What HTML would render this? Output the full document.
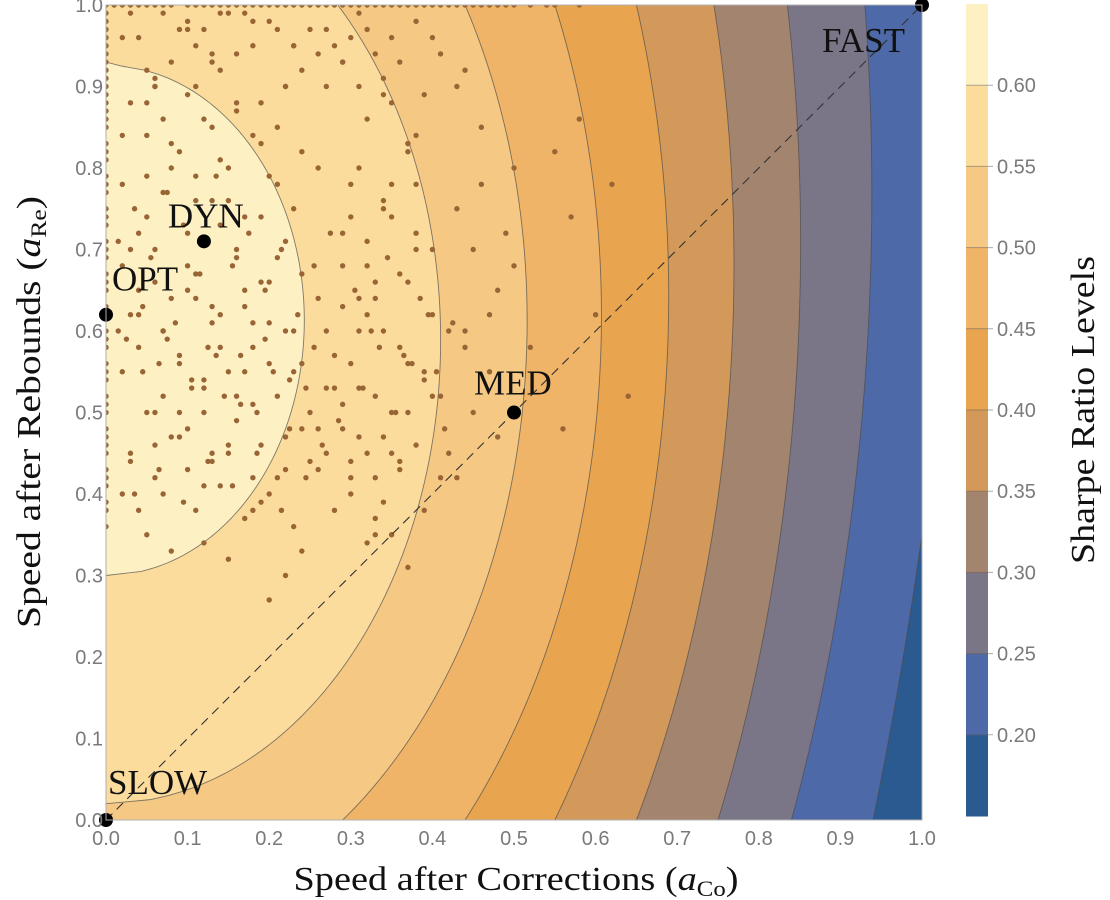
<!DOCTYPE html>
<html><head><meta charset="utf-8">
<style>
html,body{margin:0;padding:0;background:#fff;overflow:hidden;}
svg{display:block;}
.tick{font-family:"Liberation Sans",sans-serif;font-size:20px;fill:#7a7a7a;}
.ser{font-family:"Liberation Serif",serif;fill:#111;}
</style></head>
<body>
<svg id="chart" width="1110" height="900" viewBox="0 0 1110 900" xmlns="http://www.w3.org/2000/svg">
<defs><clipPath id="plotclip"><rect x="106" y="5" width="816" height="815"/></clipPath></defs>
<g id="contours" clip-path="url(#plotclip)"></g>
<g id="scatter" clip-path="url(#plotclip)"></g>
<g id="overlay"></g>
<g id="axes"></g>
<g id="cbar"></g>
<text class="ser" x="516" y="890" font-size="34" textLength="445" lengthAdjust="spacingAndGlyphs" text-anchor="middle">Speed after Corrections (<tspan font-style="italic">a</tspan><tspan font-size="22" dy="6">Co</tspan><tspan dy="-6">)</tspan></text>
<text class="ser" transform="translate(40,412) rotate(-90)" font-size="34" textLength="432" lengthAdjust="spacingAndGlyphs" text-anchor="middle">Speed after Rebounds (<tspan font-style="italic">a</tspan><tspan font-size="22" dy="6">Re</tspan><tspan dy="-6">)</tspan></text>
<text class="ser" transform="translate(1094,410) rotate(-90)" font-size="34" textLength="308" lengthAdjust="spacingAndGlyphs" text-anchor="middle">Sharpe Ratio Levels</text>
</svg>
<script>
// ---- data ----
const levelValues = [0.20, 0.25, 0.30, 0.35, 0.40, 0.45, 0.50, 0.55, 0.60];
// each boundary: three (y, x) points
const levelYa = [0.0, 0.0, 0.0, 0.0, 0.0, 0.0, 0.0, 0.02, 0.30];
const levelXa = [0.94, 0.84, 0.75, 0.65, 0.55, 0.44, 0.29, 0.0, 0.0];
const levelYb = [0.35, 0.6, 0.6, 0.6, 0.6, 0.6, 0.6, 0.6, 0.6125];
const levelXb = [1.0, 0.934, 0.849, 0.768, 0.689, 0.607, 0.516, 0.41, 0.243];
const levelYc = [0.6, 1.0, 1.0, 1.0, 1.0, 1.0, 1.0, 1.0, 0.926];
const levelXc = [1.03, 0.93, 0.835, 0.745, 0.65, 0.55, 0.44, 0.284, 0.0];
const bandColors = ["#2b5a90","#4d69a7","#7a7688","#a3846f","#d3995b","#e8a44f","#efb468","#f5c984","#fbdc9d","#fdf1c4"];
const colorbarTicks = [0.20, 0.25, 0.30, 0.35, 0.40, 0.45, 0.50, 0.55, 0.60];
const xTicks = [0.0,0.1,0.2,0.3,0.4,0.5,0.6,0.7,0.8,0.9,1.0];
const yTicks = [0.0,0.1,0.2,0.3,0.4,0.5,0.6,0.7,0.8,0.9,1.0];
const namedNames = ["SLOW","OPT","DYN","MED","FAST"];
const namedX = [0.0, 0.0, 0.12, 0.5, 1.0];
const namedY = [0.0, 0.62, 0.71, 0.5, 1.0];
const scatterX = [0.02,0.05,0.08,0.03,0.06,0.1,0.13,0.16,0.19,0.22,0.04,0.07,0.11,0.14,0.17,0.2,0.23,0.26,0.02,0.09,0.12,0.15,0.18,0.21,0.24,0.27,0.05,0.08,0.03,0.06,0.1,0.13,0.16,0.19,0.22,0.25,0.28,0.04,0.07,0.11,0.14,0.17,0.2,0.23,0.02,0.05,0.09,0.12,0.15,0.18,0.21,0.24,0.03,0.06,0.1,0.13,0.16,0.19,0.22,0.08,0.11,0.14,0.17,0.2,0.04,0.07,0.12,0.15,0.18,0.09,0.13,0.06,0.1,0.16,0.02,0.05,0.08,0.12,0.15,0.19,0.22,0.25,0.04,0.07,0.1,0.14,0.17,0.21,0.24,0.03,0.06,0.11,0.15,0.2,0.09,0.13,0.18,0.23,
0.29,0.32,0.35,0.38,0.31,0.34,0.37,0.4,0.3,0.33,0.36,0.39,0.42,0.29,0.32,0.35,0.38,0.41,0.31,0.34,0.37,0.3,0.33,0.36,0.39,0.32,0.35,0.38,0.29,0.31,0.34,0.37,0.4,0.33,0.36,0.3,0.35,0.28,0.32,0.27,0.3,0.26,0.29,
0.43,0.45,0.48,0.44,0.47,0.5,0.46,0.43,0.49,0.45,0.42,0.47,0.44,0.41,0.46,0.5,0.43,0.48,
0.04,0.08,0.12,0.16,0.2,0.24,0.28,0.32,0.36,0.4,0.06,0.1,0.14,0.18,0.22,0.26,0.3,0.34,0.38,0.44,0.03,0.09,0.15,0.21,0.27,0.33,0.39,0.07,0.13,0.19,0.25,0.31,0.37,0.05,0.11,0.17,0.23,0.29,
0.55,0.58,0.62,0.64,0.57,0.6,0.52,0.56,0.18,0.22,0.26,0.2,0.24,0.06,0.1,0.14,0.33,0.37,0.12,
0.015,0.035,0.055,0.075,0.095,0.115,0.135,0.155,0.175,0.195,0.215,0.235,0.255,0.275,0.025,0.045,0.065,0.085,0.105,0.125,0.145,0.165,0.185,0.205,0.225,0.245,0.265,0.285,0.03,0.06,0.09,0.12,0.15,0.18,0.21,0.24,0.27,0.015,0.045,0.075,0.105,0.135,0.165,0.195,0.225,0.255,0.035,0.065,0.095,0.125,0.155,0.185,0.215,0.245,0.02,0.05,0.08,0.11,0.14,0.17,0.2,0.23,0.26,0.04,0.07,0.1,0.13,0.16,0.19,0.22,
0.305,0.325,0.345,0.365,0.385,0.405,0.425,0.315,0.335,0.355,0.375,0.395,0.415,0.3,0.32,0.34,0.36,0.38,0.4,0.31,0.33,0.35,0.37,0.39,0.29,0.31,0.33,0.35,0.37,0.28,0.3,0.32,0.34,
0.02,0.07,0.13,0.18,0.23,0.27,0.31,0.35,0.41,0.05,0.11,0.16,0.21,0.29,0.34,0.38];
const scatterY = [0.78,0.74,0.8,0.7,0.66,0.72,0.76,0.69,0.74,0.71,0.62,0.6,0.64,0.58,0.63,0.66,0.6,0.64,0.55,0.57,0.53,0.55,0.58,0.52,0.56,0.6,0.5,0.47,0.45,0.42,0.48,0.44,0.49,0.46,0.43,0.5,0.53,0.38,0.4,0.38,0.41,0.37,0.4,0.36,0.68,0.84,0.82,0.86,0.8,0.84,0.78,0.82,0.88,0.9,0.89,0.85,0.88,0.83,0.9,0.64,0.67,0.62,0.65,0.61,0.58,0.52,0.5,0.46,0.61,0.56,0.61,0.46,0.43,0.52,0.4,0.35,0.33,0.34,0.32,0.39,0.47,0.44,0.72,0.77,0.65,0.73,0.55,0.69,0.67,0.62,0.7,0.79,0.76,0.56,0.5,0.45,0.42,0.55,
0.72,0.68,0.74,0.7,0.64,0.6,0.66,0.62,0.56,0.52,0.58,0.54,0.6,0.48,0.45,0.5,0.46,0.42,0.8,0.76,0.82,0.4,0.37,0.43,0.38,0.86,0.88,0.78,0.63,0.53,0.47,0.56,0.7,0.66,0.44,0.78,0.35,0.38,0.34,0.45,0.42,0.48,0.51,
0.75,0.7,0.65,0.6,0.55,0.8,0.85,0.9,0.72,0.5,0.45,0.62,0.58,0.52,0.78,0.68,0.42,0.47,
0.96,0.93,0.97,0.94,0.98,0.92,0.95,0.97,0.93,0.96,0.91,0.98,0.92,0.95,0.9,0.94,0.96,0.91,0.98,0.92,0.99,0.97,0.99,0.97,0.9,0.94,0.89,0.86,0.93,0.88,0.97,0.9,0.83,0.92,0.95,0.99,0.95,0.93,
0.82,0.86,0.78,0.52,0.74,0.62,0.58,0.48,0.38,0.3,0.43,0.27,0.33,0.9,0.97,0.99,0.35,0.31,0.41,
0.71,0.75,0.69,0.77,0.73,0.67,0.79,0.68,0.72,0.65,0.7,0.62,0.68,0.72,0.59,0.63,0.56,0.61,0.54,0.58,0.52,0.57,0.5,0.55,0.48,0.53,0.46,0.49,0.44,0.5,0.47,0.54,0.45,0.51,0.42,0.48,0.53,0.6,0.55,0.59,0.53,0.57,0.51,0.59,0.54,0.58,0.4,0.43,0.39,0.44,0.41,0.45,0.38,0.42,0.84,0.79,0.83,0.76,0.81,0.74,0.79,0.75,0.8,0.65,0.6,0.68,0.63,0.7,0.66,0.6,
0.65,0.6,0.69,0.57,0.64,0.55,0.61,0.53,0.58,0.5,0.56,0.62,0.48,0.44,0.71,0.75,0.67,0.72,0.52,0.47,0.42,0.45,0.5,0.55,0.68,0.6,0.64,0.78,0.83,0.57,0.74,0.62,0.39,
0.96,0.99,0.94,0.98,0.95,0.97,0.99,0.96,0.94,0.88,0.9,0.87,0.85,0.93,0.89,0.84];
const topEdgeX = [0.0,0.01,0.02,0.03,0.04,0.05,0.06,0.07,0.08,0.1,0.11,0.12,0.13,0.14,0.15,0.16,0.17,0.18,0.19,0.2,0.21,0.22,0.23,0.24,0.25,0.26,0.27,0.28,0.29,0.3,0.31,0.32,0.33,0.34,0.35,0.36,0.37,0.38,0.39,0.4,0.41,0.42,0.43,0.44,0.45,0.46,0.47,0.48,0.49,0.5,0.52,0.54,0.55,0.58];
const leftEdgeY = [0.36,0.38,0.39,0.41,0.42,0.43,0.45,0.46,0.47,0.48,0.5,0.51,0.52,0.54,0.55,0.56,0.58,0.59,0.6,0.62,0.63,0.65,0.66,0.67,0.69,0.7,0.71,0.73,0.74,0.75,0.77,0.78,0.79,0.81,0.82,0.83,0.85,0.86,0.87,0.88,0.89,0.9,0.91,0.92,0.93,0.94,0.95,0.96,0.97,0.98,0.99];

// ---- scales ----
const X0=106, X1=922, Y0=820, Y1=5;
const sx = v => X0 + v*(X1-X0);
const sy = v => Y0 - v*(Y0-Y1);
const NS="http://www.w3.org/2000/svg";
function mk(tag, parent){const e=document.createElementNS(NS,tag);parent.appendChild(e);return e;}

// contours: x(y)^2 = quadratic through three points
function solve3(y1,q1,y2,q2,y3,q3){
  // Lagrange
  return y=> q1*(y-y2)*(y-y3)/((y1-y2)*(y1-y3)) + q2*(y-y1)*(y-y3)/((y2-y1)*(y2-y3)) + q3*(y-y1)*(y-y2)/((y3-y1)*(y3-y2));
}
const cg=document.getElementById('contours');
const bg=mk('rect',cg);


bg.setAttribute('x',X0);bg.setAttribute('y',Y1);bg.setAttribute('width',X1-X0);bg.setAttribute('height',Y0-Y1);bg.setAttribute('fill',bandColors[0]);
levelValues.forEach((lv,i)=>{
  const q=solve3(levelYa[i],levelXa[i]**2,levelYb[i],levelXb[i]**2,levelYc[i],levelXc[i]**2);
  let d='M'+sx(0)+','+sy(1.02);
  for(let k=0;k<=208;k++){
    const y=1.02-k*0.005;
    const x=Math.sqrt(Math.max(q(y),0));
    d+=' L'+sx(x).toFixed(2)+','+sy(y).toFixed(2);
  }
  d+=' L'+sx(0)+','+sy(-0.02)+' Z';
  const p=mk('path',cg);
  
  
  p.setAttribute('d',d);
  p.setAttribute('fill',bandColors[i+1]);p.setAttribute('stroke','#4a4a4a');p.setAttribute('stroke-opacity','0.7');p.setAttribute('stroke-width','0.9');
});

// scatter
const sg=document.getElementById('scatter');
function dot(x,y){const d=mk('circle',sg);
  
  
  d.setAttribute('cx',sx(x));d.setAttribute('cy',sy(y));d.setAttribute('r',2.7);d.setAttribute('fill','#9a6535');}
scatterX.forEach((x,i)=>dot(x,scatterY[i]));
topEdgeX.forEach(x=>dot(x,1.0));
leftEdgeY.forEach(y=>dot(0,y));

// overlay
const og=document.getElementById('overlay');
const ln=mk('line',og);


ln.setAttribute('x1',sx(0));ln.setAttribute('y1',sy(0));ln.setAttribute('x2',sx(1));ln.setAttribute('y2',sy(1));
ln.setAttribute('stroke','#333');ln.setAttribute('stroke-width','1.1');ln.setAttribute('stroke-dasharray','9,6');
const labelDx=[2,6,-36,-40,-100], labelDy=[-26,-24,-14,-18,47];
namedNames.forEach((n,i)=>{
  const c=mk('circle',og);
  
  
  c.setAttribute('cx',sx(namedX[i]));c.setAttribute('cy',sy(namedY[i]));c.setAttribute('r',7);c.setAttribute('fill','#000');
  const t=mk('text',og);
  
  
  t.setAttribute('class','ser');t.setAttribute('font-size','35');
  t.setAttribute('x',sx(namedX[i])+labelDx[i]);t.setAttribute('y',sy(namedY[i])+labelDy[i]);
  t.textContent=n;
});

// axes
const ag=document.getElementById('axes');
const fr=mk('rect',ag);


fr.setAttribute('x',X0);fr.setAttribute('y',Y1);fr.setAttribute('width',X1-X0);fr.setAttribute('height',Y0-Y1);fr.setAttribute('fill','none');fr.setAttribute('stroke','#b0b0b0');fr.setAttribute('stroke-width','1');
xTicks.forEach(v=>{
  const t=mk('text',ag);
  
  
  t.setAttribute('class','tick');t.setAttribute('x',sx(v));t.setAttribute('y',Y0+25);t.setAttribute('text-anchor','middle');
  t.textContent=v.toFixed(1);
});
yTicks.forEach(v=>{
  const t=mk('text',ag);
  
  
  t.setAttribute('class','tick');t.setAttribute('x',X0-3);t.setAttribute('y',sy(v)+7);t.setAttribute('text-anchor','end');
  t.textContent=v.toFixed(1);
});

// colorbar
const cb=document.getElementById('cbar');
const CBX=966, CBW=22, CBTOP=4, CBBOT=816;
const cy=v=>CBBOT-(v-0.15)/0.5*(CBBOT-CBTOP);
bandColors.forEach((col,i)=>{
  const lo=0.15+0.05*i, hi=lo+0.05;
  const r=mk('rect',cb);
  
  
  r.setAttribute('x',CBX);r.setAttribute('y',cy(hi));r.setAttribute('width',CBW);r.setAttribute('height',cy(lo)-cy(hi)+0.5);r.setAttribute('fill',col);
});
colorbarTicks.forEach(v=>{
  const l=mk('line',cb);
  
  
  l.setAttribute('x1',CBX);l.setAttribute('x2',CBX+CBW+5);l.setAttribute('y1',cy(v));l.setAttribute('y2',cy(v));l.setAttribute('stroke','#555');l.setAttribute('stroke-opacity','0.5');
  const t=mk('text',cb);
  
  
  t.setAttribute('class','tick');t.setAttribute('x',CBX+31);t.setAttribute('y',cy(v)+7);
  t.textContent=v.toFixed(2);
});
</script>
</body></html>
